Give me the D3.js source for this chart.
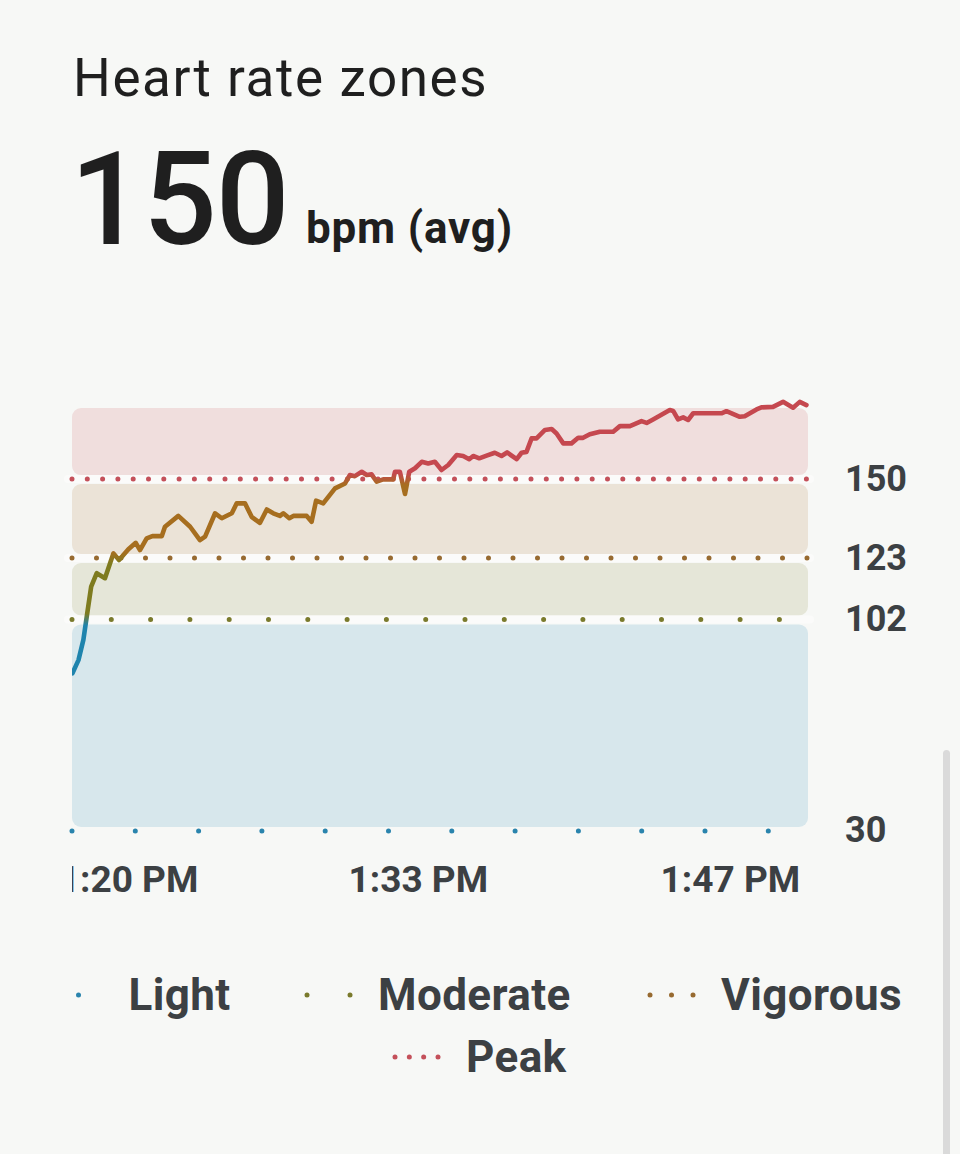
<!DOCTYPE html>
<html lang="en">
<head>
    <meta charset="UTF-8">
    <title>Heart rate zones</title>
    <style>
        body { margin: 0; background: #f7f8f6; font-family: Roboto, "Noto Sans", sans-serif; }
        svg { display: block; }
    </style>
    <script src="https://d3js.org/d3.v7.min.js"></script>
</head>
<body>
<div id="chart"></div>
<script>
    // heart rate samples (time in minutes after 1:00 PM)
    var minutes = [17.37,17.64,17.86,18.01,18.21,18.46,18.83,19.21,19.46,19.88,
        20.21,20.40,20.70,20.96,21.38,21.52,22.12,22.65,23.09,23.32,
        23.77,24.07,24.52,24.74,25.11,25.41,25.78,26.09,26.38,26.68,
        26.83,27.10,27.28,27.88,28.10,28.30,28.62,29.15,29.60,29.82,
        30.04,30.35,30.57,30.79,31.02,31.31,31.76,31.84,32.06,32.29,
        32.48,32.74,33.04,33.33,33.63,33.93,34.23,34.61,34.90,35.17,
        35.35,35.62,35.95,36.32,36.62,36.87,37.30,37.52,37.74,37.97,
        38.19,38.57,38.87,39.09,39.39,39.76,40.06,40.28,40.58,41.03,
        41.63,41.93,42.38,42.90,43.13,43.42,44.17,44.32,44.54,44.77,
        44.99,45.22,46.49,46.71,47.31,47.53,48.06,48.28,48.80,49.25,
        49.70,50.00,50.30];
    var bpm = [83.6,88.1,95.0,102.9,113.2,117.8,116.1,124.6,122.3,126.0,
        128.2,125.7,129.7,130.5,130.5,133.7,137.4,133.7,129.1,130.3,
        138.3,136.6,138.3,141.7,141.7,137.1,135.0,139.6,138.3,137.4,
        138.3,136.6,137.4,137.4,135.4,142.6,141.7,146.8,148.5,151.4,
        151.0,152.5,151.4,151.6,149.1,149.9,149.9,152.5,152.5,144.9,
        152.5,153.7,155.9,155.3,155.9,153.1,154.8,158.2,157.9,156.8,
        157.9,157.1,158.0,159.0,157.9,159.1,156.8,159.0,159.3,163.9,
        163.9,166.8,167.1,165.6,162.2,162.2,164.1,164.1,165.3,166.2,
        166.2,168.1,168.1,169.8,169.2,170.4,173.6,173.3,170.4,171.1,
        170.2,172.5,172.5,173.2,171.3,171.5,173.8,174.5,174.7,176.4,
        174.4,176.4,175.3];

    var avgBpm = 150;
    var zoneNames = ["Light", "Moderate", "Vigorous", "Peak"];
    var zoneLimits = [30, 102, 123, 150];     // lower bound of each zone
    var tickMinutes = [20, 33, 47];           // 1:20, 1:33, 1:47 PM

    // colours per zone
    var bandColors = ["#d7e7ec", "#e5e6d8", "#ebe3d7", "#f0dedd"];
    var lineColors = ["#1f84ad", "#7e7b1f", "#a66e1f", "#c5484f"];
    var dotColors = ["#2a84ad", "#7a7a2c", "#976a30", "#c4505a"];
    var dotGaps = [63.3, 39.3, 24.5, 15.3];

    var width = 960, height = 1154;
    var left = 72, right = 808;
    var yTop = 174.3;

    var t0 = new Date(2024, 0, 1, 13, 0, 0);
    function toDate(m) { return new Date(t0.getTime() + m * 60000); }

    var data = minutes.map(function(m, i) { return { t: toDate(m), v: bpm[i] }; });

    var x = d3.scaleTime().domain([toDate(17.35), toDate(50.37)]).range([left, right]);
    var y = d3.scaleLinear().domain([30, yTop]).range([830, 408]);

    var svg = d3.select("#chart").append("svg").attr("width", width).attr("height", height);
    var defs = svg.append("defs");

    // header
    svg.append("text").attr("x", 73).attr("y", 96).attr("font-size", 53)
        .attr("letter-spacing", 1.6)
        .attr("fill", "#1f1f1f").text("Heart rate zones");
    svg.append("text").attr("x", 70).attr("y", 244).attr("font-size", 130).attr("font-weight", 500)
        .attr("fill", "#1f1f1f").attr("letter-spacing", -1).text(avgBpm);
    svg.append("text").attr("x", 306).attr("y", 243).attr("font-size", 44).attr("font-weight", 700)
        .attr("letter-spacing", 0.8)
        .attr("fill", "#1f1f1f").text("bpm (avg)");

    // zone bands
    zoneLimits.forEach(function(lo, i) {
        var hi = i < zoneLimits.length - 1 ? zoneLimits[i + 1] : yTop;
        var top = i < zoneLimits.length - 1 ? y(hi) + 5 : y(hi);
        var bottom = i === 0 ? y(lo) - 3 : y(lo) - 4;
        svg.append("rect")
            .attr("x", left).attr("y", top)
            .attr("width", right - left).attr("height", bottom - top)
            .attr("rx", 9)
            .attr("fill", bandColors[i]);
    });

    // zone threshold lines (dotted)
    zoneLimits.forEach(function(v, i) {
        if (i > 0) {
            svg.append("line")
                .attr("x1", left - 4).attr("x2", right + 2)
                .attr("y1", y(v)).attr("y2", y(v))
                .attr("stroke", "#fbfbfa").attr("stroke-width", 8).attr("stroke-linecap", "round");
        }
        svg.append("line")
            .attr("x1", left).attr("x2", right)
            .attr("y1", y(v) + (i === 0 ? 1 : 0)).attr("y2", y(v) + (i === 0 ? 1 : 0))
            .attr("stroke", dotColors[i]).attr("stroke-width", 5)
            .attr("stroke-linecap", "round")
            .attr("stroke-dasharray", "0 " + dotGaps[i]);
    });

    // line coloured by zone
    var grad = defs.append("linearGradient").attr("id", "zoneGrad")
        .attr("gradientUnits", "userSpaceOnUse")
        .attr("x1", 0).attr("x2", 0).attr("y1", y(30)).attr("y2", y(yTop));
    function off(v) { return (v - 30) / (yTop - 30); }
    var stops = [[0, 0]];
    for (var i = 1; i < zoneLimits.length; i++) {
        stops.push([off(zoneLimits[i] - 2), i - 1]);
        stops.push([off(zoneLimits[i] + 2), i]);
    }
    stops.push([1, zoneLimits.length - 1]);
    stops.forEach(function(s) {
        grad.append("stop").attr("offset", s[0]).attr("stop-color", lineColors[s[1]]);
    });

    defs.append("clipPath").attr("id", "plotClip").append("rect")
        .attr("x", left).attr("y", 380).attr("width", right - left + 10).attr("height", 460);

    var line = d3.line().x(function(d) { return x(d.t); }).y(function(d) { return y(d.v); });
    svg.append("path").datum(data)
        .attr("clip-path", "url(#plotClip)")
        .attr("d", line)
        .attr("fill", "none")
        .attr("stroke", "url(#zoneGrad)")
        .attr("stroke-width", 4.6)
        .attr("stroke-linejoin", "round")
        .attr("stroke-linecap", "round");

    // x axis (time), clipped at the chart's left edge
    defs.append("clipPath").attr("id", "axisClip").append("rect")
        .attr("x", left).attr("y", 840).attr("width", 800).attr("height", 80);
    var xAxis = d3.axisBottom(x)
        .tickValues(tickMinutes.map(toDate))
        .tickSize(0).tickPadding(0)
        .tickFormat(d3.timeFormat("%-I:%M %p"));
    var gx = svg.append("g").attr("clip-path", "url(#axisClip)")
        .append("g").attr("transform", "translate(-3,866)").call(xAxis);
    gx.select(".domain").remove();
    gx.attr("font-family", "Roboto, sans-serif").attr("font-size", 37).attr("font-weight", 700);
    gx.selectAll("text").attr("fill", "#3c4043");

    // y axis (zone limits)
    var yAxis = d3.axisRight(y).tickValues(zoneLimits).tickSize(0).tickPadding(0);
    var gy = svg.append("g").attr("transform", "translate(845,0)").call(yAxis);
    gy.select(".domain").remove();
    gy.attr("font-family", "Roboto, sans-serif").attr("font-size", 36).attr("font-weight", 700);
    gy.selectAll("text").attr("fill", "#3c4043");

    // legend
    var legendDotX = [78.5, 307, 650, 395];
    var legendRowY = [995, 1057];
    var legendDots = [1, 2, 3, 4];
    zoneNames.forEach(function(name, i) {
        var row = i < 3 ? 0 : 1;
        var cy = legendRowY[row];
        var n = legendDots[i];
        var len = n > 1 ? 43 : 22;
        var step = n > 1 ? len / (n - 1) : 0;
        var g = svg.append("g");
        g.selectAll("circle").data(d3.range(n)).enter().append("circle")
            .attr("cx", function(k) { return legendDotX[i] + k * step; })
            .attr("cy", cy).attr("r", 2.5)
            .attr("fill", dotColors[i]);
        g.append("text")
            .attr("x", legendDotX[i] + len + 28)
            .attr("y", cy + 15)
            .attr("font-size", 44).attr("font-weight", 700)
            .attr("letter-spacing", 0.4)
            .attr("fill", "#3c4043")
            .text(name);
    });

    // scrollbar
    svg.append("rect").attr("x", 943).attr("y", 750).attr("width", 7).attr("height", 420)
        .attr("rx", 3.5).attr("fill", "#dadada");
</script>
</body>
</html>
